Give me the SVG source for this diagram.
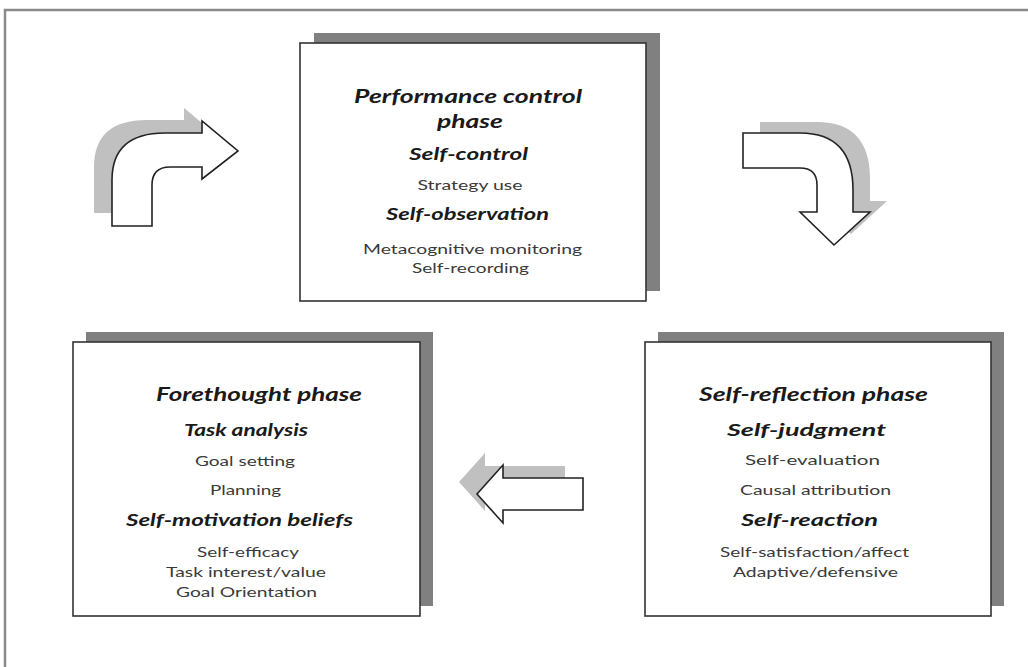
<svg xmlns="http://www.w3.org/2000/svg" width="1028" height="667" viewBox="0 0 1028 667">
<style>
.frame{fill:#fff;stroke:#8a8a8a;stroke-width:2.5}
.shadow{fill:#808080}
.box{fill:#fff;stroke:#333;stroke-width:1.6}
.ash{fill:#c0c0c0}
.arrow{fill:#fff;stroke:#222;stroke-width:1.6;stroke-linejoin:miter}
text{font-family:Lato,"Open Sans","Liberation Sans",sans-serif;text-anchor:middle;fill:#2a2a2a}
.h{font-weight:bold;font-style:italic;font-size:18px;fill:#1a1a1a}
.s{font-weight:bold;font-style:italic;font-size:17px;fill:#1a1a1a}
.t{font-size:13.5px;fill:#3a3a3a}
</style>
<rect class="frame" x="5" y="10" width="1040" height="680"/>
<g id="connectors">
  <g id="arrow-forethought-to-performance">
    <path class="ash" transform="translate(-18,-13)" d="M112 226 L112 180 Q112 133 165 133 L202 133 L202 121 L238 151 L202 179 L202 167 L170 167 Q152 167 152 185 L152 226 Z"/>
    <path class="arrow" d="M112 226 L112 180 Q112 133 165 133 L202 133 L202 121 L238 151 L202 179 L202 167 L170 167 Q152 167 152 185 L152 226 Z"/>
  </g>
  <g id="arrow-performance-to-reflection">
    <path class="ash" transform="translate(17,-11)" d="M743 133 L800 133 Q853 133 853 190 L853 212 L870 212 L834 245 L800 212 L817 212 L817 185 Q817 168 800 168 L743 168 Z"/>
    <path class="arrow" d="M743 133 L800 133 Q853 133 853 190 L853 212 L870 212 L834 245 L800 212 L817 212 L817 185 Q817 168 800 168 L743 168 Z"/>
  </g>
  <g id="arrow-reflection-to-forethought">
    <path class="ash" transform="translate(-18,-12)" d="M583 478 L503 478 L503 465 L477 494 L503 523 L503 510 L583 510 Z"/>
    <path class="arrow" d="M583 478 L503 478 L503 465 L477 494 L503 523 L503 510 L583 510 Z"/>
  </g>
</g>
<g id="performance">
  <rect class="shadow" x="314" y="33" width="346" height="258"/>
  <rect class="box" x="300" y="43" width="346" height="258"/>
  <text class="h" x="468" y="103" textLength="228" lengthAdjust="spacingAndGlyphs">Performance control</text>
  <text class="h" x="470" y="128" textLength="66" lengthAdjust="spacingAndGlyphs">phase</text>
  <text class="s" x="468.5" y="160" textLength="119" lengthAdjust="spacingAndGlyphs">Self-control</text>
  <text class="t" x="470" y="190" textLength="105" lengthAdjust="spacingAndGlyphs">Strategy use</text>
  <text class="s" x="467.5" y="220" textLength="163" lengthAdjust="spacingAndGlyphs">Self-observation</text>
  <text class="t" x="472.5" y="254" textLength="219" lengthAdjust="spacingAndGlyphs">Metacognitive monitoring</text>
  <text class="t" x="470.5" y="273" textLength="117" lengthAdjust="spacingAndGlyphs">Self-recording</text>
</g>
<g id="forethought">
  <rect class="shadow" x="86" y="332" width="347" height="274"/>
  <rect class="box" x="73" y="342" width="347" height="274"/>
  <text class="h" x="259" y="401" textLength="206" lengthAdjust="spacingAndGlyphs">Forethought phase</text>
  <text class="s" x="246" y="436" textLength="124" lengthAdjust="spacingAndGlyphs">Task analysis</text>
  <text class="t" x="245" y="466" textLength="100" lengthAdjust="spacingAndGlyphs">Goal setting</text>
  <text class="t" x="245.5" y="495" textLength="71" lengthAdjust="spacingAndGlyphs">Planning</text>
  <text class="s" x="239.5" y="526" textLength="227" lengthAdjust="spacingAndGlyphs">Self-motivation beliefs</text>
  <text class="t" x="248" y="557" textLength="102" lengthAdjust="spacingAndGlyphs">Self-efficacy</text>
  <text class="t" x="246" y="577" textLength="160" lengthAdjust="spacingAndGlyphs">Task interest/value</text>
  <text class="t" x="246.5" y="597" textLength="141" lengthAdjust="spacingAndGlyphs">Goal Orientation</text>
</g>
<g id="reflection">
  <rect class="shadow" x="658" y="332" width="346" height="274"/>
  <rect class="box" x="645" y="342" width="346" height="274"/>
  <text class="h" x="813.5" y="401" textLength="229" lengthAdjust="spacingAndGlyphs">Self-reflection phase</text>
  <text class="s" x="806.5" y="436" textLength="159" lengthAdjust="spacingAndGlyphs">Self-judgment</text>
  <text class="t" x="812.5" y="465" textLength="135" lengthAdjust="spacingAndGlyphs">Self-evaluation</text>
  <text class="t" x="815.5" y="495" textLength="151" lengthAdjust="spacingAndGlyphs">Causal attribution</text>
  <text class="s" x="809.5" y="526" textLength="137" lengthAdjust="spacingAndGlyphs">Self-reaction</text>
  <text class="t" x="814.5" y="557" textLength="189" lengthAdjust="spacingAndGlyphs">Self-satisfaction/affect</text>
  <text class="t" x="815.5" y="577" textLength="165" lengthAdjust="spacingAndGlyphs">Adaptive/defensive</text>
</g>
</svg>
